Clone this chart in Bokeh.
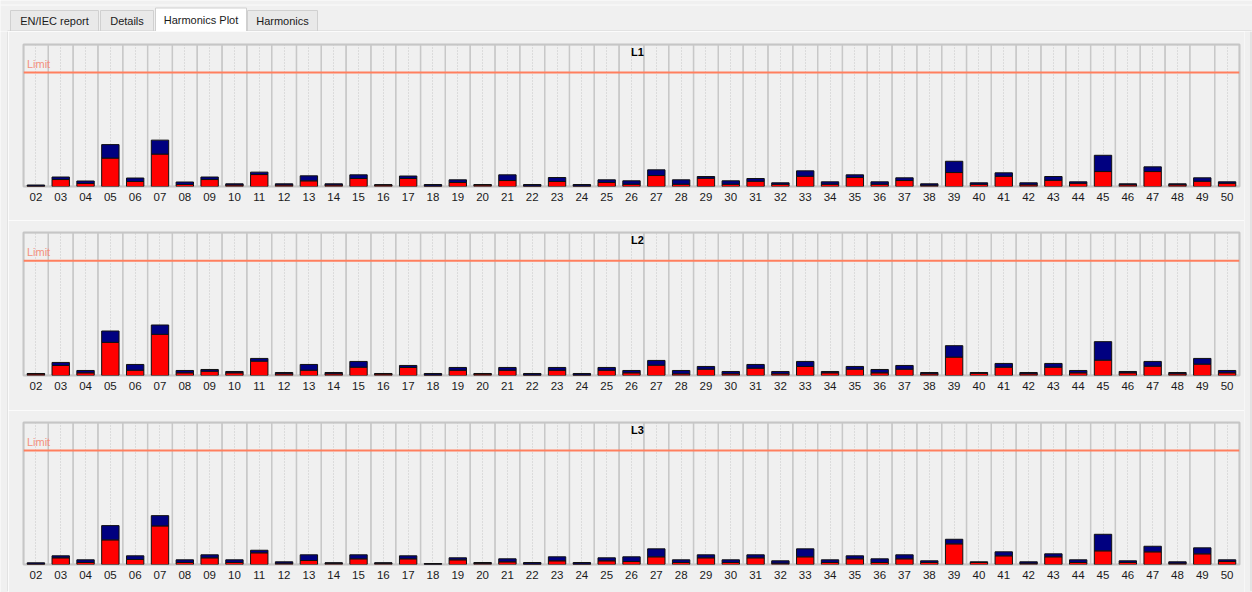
from bokeh.plotting import figure
from bokeh.models import ColumnDataSource, FactorRange, Range1d, Span
from bokeh.layouts import column, row
from bokeh.embed import file_html
from bokeh.resources import INLINE
from bokeh.core.properties import value

# ---------------- data ----------------
harmonics = ["02", "03", "04", "05", "06", "07", "08", "09", "10", "11", "12", "13", "14",
             "15", "16", "17", "18", "19", "20", "21", "22", "23", "24", "25", "26", "27",
             "28", "29", "30", "31", "32", "33", "34", "35", "36", "37", "38", "39", "40",
             "41", "42", "43", "44", "45", "46", "47", "48", "49", "50"]

tab_labels = ["EN/IEC report", "Details", "Harmonics Plot", "Harmonics"]
panel_titles = ["L1", "L2", "L3"]
limit_value = 114.3
y_top = 142.4

l1_red = [0.5, 7.0, 3.0, 28.5, 5.0, 32.5, 2.0, 7.0, 1.5, 12.0, 1.5, 5.7, 1.5, 8.0, 1.5, 8.0,
          0.5, 4.0, 1.5, 6.0, 0.5, 5.0, 0.5, 4.0, 2.3, 11.0, 2.3, 8.3, 2.3, 5.3, 2.3, 10.3,
          2.3, 9.0, 2.3, 6.0, 1.3, 14.0, 2.3, 10.3, 1.7, 6.3, 3.3, 15.0, 1.7, 15.0, 1.7, 5.3, 3.3]
l1_blue = [1.0, 2.5, 2.5, 13.5, 3.5, 14.0, 2.5, 2.5, 1.2, 2.4, 1.2, 5.0, 1.2, 3.7, 0.3, 2.5,
           1.5, 2.7, 0.5, 5.7, 1.5, 4.0, 1.5, 2.7, 3.4, 5.7, 4.4, 1.7, 3.4, 2.7, 1.4, 5.4,
           2.4, 2.7, 2.4, 2.7, 1.4, 11.3, 1.4, 3.4, 2.0, 3.7, 1.4, 16.3, 1.0, 4.7, 1.0, 3.4, 1.4]

l2_red = [1.5, 10.0, 2.7, 33.0, 5.3, 41.0, 2.7, 4.3, 2.7, 14.3, 1.7, 5.3, 1.7, 8.3, 1.5, 8.0,
          0.5, 5.3, 1.5, 5.3, 0.5, 5.3, 0.5, 5.3, 2.7, 10.3, 1.7, 6.3, 1.7, 7.3, 1.7, 9.0,
          2.7, 6.3, 2.7, 6.3, 1.7, 18.3, 2.3, 8.3, 1.7, 8.3, 2.7, 15.3, 2.7, 9.3, 1.7, 11.3, 2.7]
l2_blue = [0.5, 3.0, 2.3, 11.3, 5.7, 9.3, 2.3, 1.7, 1.3, 2.7, 1.3, 5.7, 1.3, 5.7, 0.5, 2.0,
           1.5, 2.7, 0.5, 2.7, 1.5, 2.7, 1.5, 2.7, 2.3, 4.7, 3.3, 2.7, 2.3, 3.7, 2.3, 5.0,
           1.3, 2.7, 3.3, 3.7, 1.3, 11.4, 0.7, 3.7, 1.3, 3.7, 2.3, 18.4, 1.3, 4.7, 1.3, 5.7, 2.3]

l3_red = [0.5, 6.7, 2.0, 24.7, 5.0, 38.7, 2.0, 6.7, 2.0, 11.7, 1.3, 4.0, 1.3, 5.7, 1.3, 5.7,
          0.3, 4.7, 1.3, 2.7, 0.5, 3.7, 0.5, 3.7, 3.0, 7.7, 2.0, 6.7, 2.0, 6.7, 1.3, 7.7,
          2.0, 5.7, 2.0, 5.7, 2.0, 20.7, 2.0, 8.7, 1.3, 7.7, 2.0, 13.7, 2.0, 12.7, 1.3, 10.7, 3.0]
l3_blue = [1.2, 2.0, 2.7, 14.3, 3.7, 10.3, 2.7, 3.0, 2.7, 2.6, 1.4, 5.7, 0.4, 4.0, 0.4, 3.0,
           0.7, 2.0, 0.7, 3.0, 1.5, 4.0, 1.5, 3.0, 4.7, 8.0, 2.7, 3.0, 2.7, 3.0, 2.4, 8.0,
           2.7, 3.0, 3.7, 4.0, 1.7, 4.6, 0.7, 4.0, 1.4, 3.0, 2.7, 16.6, 1.7, 5.6, 1.4, 6.0, 1.7]

panels = [(l1_red, l1_blue), (l2_red, l2_blue), (l3_red, l3_blue)]

# ---------------- style ----------------
BG = "#f0f0f0"
GRID = "#c8c8c8"
PANE = "#d5d5d5"
LIMIT_COLOR = "#ff7f5e"
FONT = "Liberation Sans"
TOTAL_W = 1252
TAB_H = 31


def chrome(width, height, x0, x1, y0, y1):
    f = figure(width=width, height=height, x_range=Range1d(x0, x1), y_range=Range1d(y1, y0),
               output_backend="svg", toolbar_location=None,
               x_axis_location=None, y_axis_location=None,
               min_border=0, background_fill_color=BG, border_fill_color=BG,
               outline_line_color=None)
    f.xgrid.visible = False
    f.ygrid.visible = False
    return f


# ---------------- tabs strip ----------------
tab_x0 = [10, 100, 155, 247]
tab_x1 = [98, 153, 246, 317]
tab_top = [10, 10, 7.5, 10]
tab_fill = ["#e9e9e9", "#e9e9e9", "#ffffff", "#e9e9e9"]

tabs = chrome(TOTAL_W, TAB_H, 0, TOTAL_W, 0, TAB_H)
tabs.segment(x0=[0], x1=[TOTAL_W], y0=[4.5], y1=[4.5], line_color="#fbfbfb", line_width=1)
tabs.segment(x0=[7, 246], x1=[155, 1251], y0=[30.5, 30.5], y1=[30.5, 30.5],
             line_color=PANE, line_width=1)
tabs.segment(x0=[7.5, 1250.5], x1=[7.5, 1250.5], y0=[30.5, 30.5], y1=[31, 31],
             line_color=PANE, line_width=1)
tabs.quad(left=tab_x0, right=tab_x1, top=tab_top, bottom=[30.5, 30.5, 31, 30.5],
          fill_color=tab_fill, line_color="#d0d0d0", line_width=1)
tabs.text(x=[(a + b) / 2 for a, b in zip(tab_x0, tab_x1)],
          y=[20.5, 20.5, 19.5, 20.5], text=tab_labels,
          text_align="center", text_baseline="middle",
          text_font=value(FONT), text_font_size="11px", text_color="#1a1a1a")

# ---------------- panels ----------------
geom = [  # (border_top, frame_height, border_bottom)
    (13, 142, 34),
    (12, 143, 35),
    (12, 142, 28),
]

figs = []
for (red, blue), title, (bt, fh, bb) in zip(panels, panel_titles, geom):
    p = figure(x_range=FactorRange(factors=harmonics, range_padding=0, factor_padding=0),
               y_range=Range1d(0, y_top),
               frame_width=1216, frame_height=fh,
               min_border_left=15, min_border_right=5,
               min_border_top=bt, min_border_bottom=bb,
               output_backend="svg", toolbar_location=None,
               y_axis_location=None,
               background_fill_color=BG, border_fill_color=BG,
               outline_line_color="#c4c4c4", outline_line_width=2)
    p.ygrid.visible = False
    p.xgrid.grid_line_color = "#c6c6c6"
    p.xgrid.grid_line_dash = "1 2"
    p.xgrid.grid_line_width = 1

    # column separators
    p.vbar(x=harmonics, top=[y_top] * len(harmonics), bottom=0, width=1.0,
           fill_color=None, line_color=GRID, line_width=1.3)

    src = ColumnDataSource(dict(h=harmonics, red=red, blue=blue))
    p.vbar_stack(["red", "blue"], x="h", width=0.7, source=src,
                 fill_color=["#ff0000", "#000080"], line_color="#101010", line_width=1)

    p.add_layout(Span(location=limit_value, dimension="width",
                      line_color=LIMIT_COLOR, line_width=2))
    p.text(x=[harmonics[0]], y=[limit_value], text=["Limit"],
           x_offset=-9, y_offset=-3, text_align="left", text_baseline="bottom",
           text_font=value(FONT), text_font_size="11px", text_color="#f4907c")
    p.text(x=[harmonics[24]], y=[y_top], text=[title],
           x_offset=6, y_offset=1, text_align="center", text_baseline="top",
           text_font=value(FONT), text_font_size="11px", text_font_style="bold",
           text_color="#000000")

    ax = p.xaxis[0]
    ax.axis_line_color = None
    ax.major_tick_line_color = None
    ax.minor_tick_line_color = None
    ax.major_label_standoff = 0
    ax.major_label_text_font = FONT
    ax.major_label_text_font_size = "11.5px"
    ax.major_label_text_color = "#1a1a1a"
    figs.append(p)

pane_h = sum(bt + fh + bb for bt, fh, bb in geom)
left = chrome(8, pane_h, 0, 8, TAB_H, TAB_H + pane_h)
left.segment(x0=[7.5], x1=[7.5], y0=[TAB_H], y1=[590.5], line_color=PANE, line_width=1)
right = chrome(8, pane_h, 1244, 1252, TAB_H, TAB_H + pane_h)
right.segment(x0=[1250.5], x1=[1250.5], y0=[TAB_H], y1=[590.5], line_color=PANE, line_width=1)

layout = column(tabs, row(left, column(*figs, spacing=0), right, spacing=0), spacing=0)
open("out.html", "w").write(file_html(layout, INLINE))
